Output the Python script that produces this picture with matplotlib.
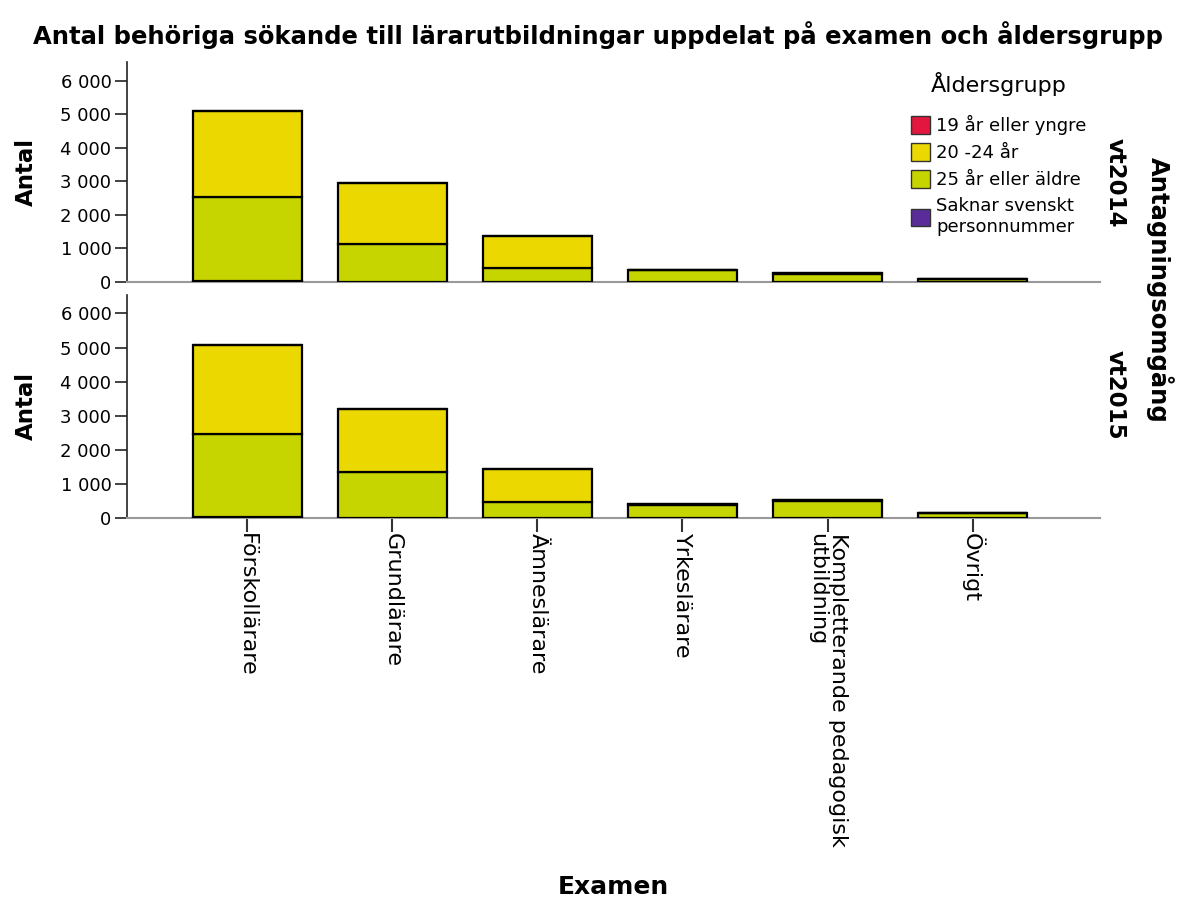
import matplotlib.pyplot as plt
import numpy as np
from matplotlib import rcParams
from matplotlib.patches import Patch
from matplotlib.ticker import FuncFormatter

rcParams['font.family'] = 'DejaVu Sans'

categories = ['Förskollärare', 'Grundlärare', 'Ämneslärare', 'Yrkeslärare',
              'Kompletterande pedagogisk\nutbildning', 'Övrigt']
age_groups = ['19 år eller yngre', '20 -24 år', '25 år eller äldre',
              'Saknar svenskt\npersonnummer']
rounds = ['vt2014', 'vt2015']

# values per round, one list per age group
vt2014_saknar = [25, 15, 10, 5, 5, 5]
vt2014_25 = [2520, 1110, 410, 340, 235, 70]
vt2014_20_24 = [2550, 1835, 940, 15, 15, 12]
vt2014_19 = [5, 4, 5, 0, 0, 0]

vt2015_saknar = [25, 15, 10, 5, 5, 5]
vt2015_25 = [2435, 1325, 462, 385, 510, 135]
vt2015_20_24 = [2600, 1863, 960, 14, 16, 20]
vt2015_19 = [5, 3, 5, 0, 0, 0]

colors = {'19': '#E2163E', '20_24': '#EAD800', '25': '#C6D500', 'saknar': '#5A2C9A'}

fig = plt.figure(figsize=(11.96, 9.01), dpi=100)
ax_top = fig.add_axes([0.106, 0.687, 0.814, 0.244])
ax_bot = fig.add_axes([0.106, 0.425, 0.814, 0.248])

x = np.arange(len(categories))
width = 0.75
thousands = FuncFormatter(lambda v, p: f'{int(v):,}'.replace(',', ' '))

panels = [
    (ax_top, vt2014_saknar, vt2014_25, vt2014_20_24, vt2014_19),
    (ax_bot, vt2015_saknar, vt2015_25, vt2015_20_24, vt2015_19),
]
for ax, saknar, a25, a20, a19 in panels:
    bottom = np.zeros(len(categories))
    for vals, key in [(saknar, 'saknar'), (a25, '25'), (a20, '20_24'), (a19, '19')]:
        ax.bar(x, vals, width=width, bottom=bottom, color=colors[key],
               edgecolor='black', linewidth=1.6, zorder=3)
        bottom = bottom + np.array(vals)
    ax.set_xlim(-0.83, 5.88)
    ax.set_ylim(0, 6550)
    ax.set_yticks(np.arange(0, 6001, 1000))
    ax.yaxis.set_major_formatter(thousands)
    ax.tick_params(axis='y', direction='out', length=9, width=1.2,
                   labelsize=13, color='#222222', pad=2)
    ax.spines['top'].set_visible(False)
    ax.spines['right'].set_visible(False)
    ax.spines['left'].set_color('#222222')
    ax.spines['left'].set_linewidth(1.2)
    ax.spines['bottom'].set_color('#999999')
    ax.spines['bottom'].set_linewidth(1.5)
    ax.set_ylabel('Antal', fontsize=16.5, fontweight='bold', labelpad=16)

ax_top.set_xticks([])
ax_bot.set_xticks(x)
ax_bot.set_xticklabels(categories, rotation=-90, fontsize=16, va='top',
                       ha='center', linespacing=1.0, multialignment='left')
ax_bot.tick_params(axis='x', direction='out', length=10, width=1.5,
                   color='#333333', pad=1)
ax_bot.set_xlabel('Examen', fontsize=18, fontweight='bold', labelpad=20)

# facet labels on the right
ax_top.text(1.015, 0.45, rounds[0], transform=ax_top.transAxes, rotation=-90,
            fontsize=16.5, fontweight='bold', ha='center', va='center')
ax_bot.text(1.015, 0.55, rounds[1], transform=ax_bot.transAxes, rotation=-90,
            fontsize=16.5, fontweight='bold', ha='center', va='center')
fig.text(0.970, 0.678, 'Antagningsomgång', rotation=-90, fontsize=17.5,
         fontweight='bold', ha='center', va='center')

handles = [Patch(facecolor=colors['19'], edgecolor='#333333'),
           Patch(facecolor=colors['20_24'], edgecolor='#333333'),
           Patch(facecolor=colors['25'], edgecolor='#333333'),
           Patch(facecolor=colors['saknar'], edgecolor='#333333')]
leg = ax_top.legend(handles, age_groups, title='Åldersgrupp', loc='upper right',
                    bbox_to_anchor=(0.993, 0.99), frameon=False, fontsize=13,
                    title_fontsize=16, handlelength=1.1, handleheight=1.1,
                    handletextpad=0.3, labelspacing=0.45, borderaxespad=0)
leg._legend_box.sep = 14

fig.suptitle('Antal behöriga sökande till lärarutbildningar uppdelat på examen och åldersgrupp',
             x=0.5, y=0.977, fontsize=17.5, fontweight='bold')

fig.savefig('out.png', dpi=100)
